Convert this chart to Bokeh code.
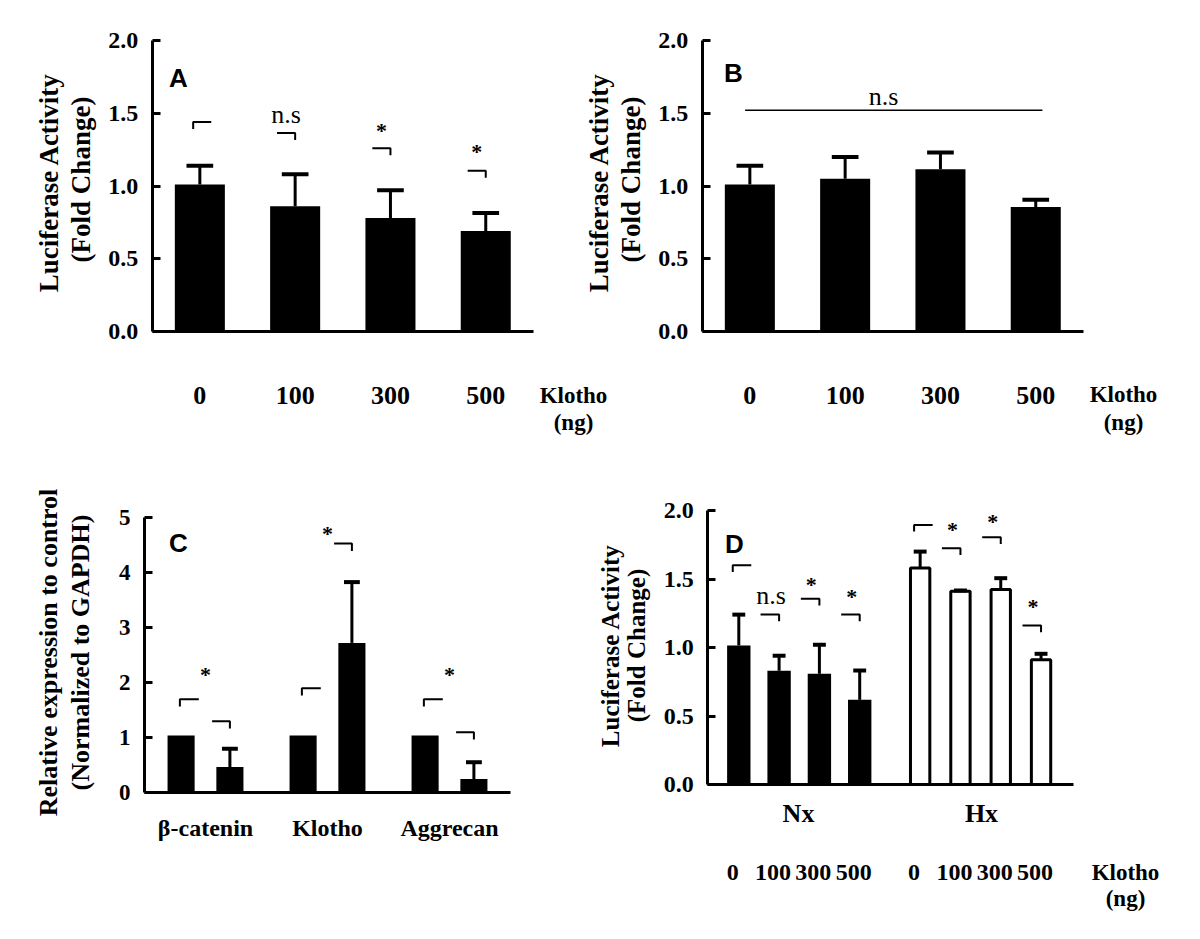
import math
from bokeh.plotting import figure
from bokeh.layouts import column
from bokeh.models import FixedTicker, Range1d, PrintfTickFormatter, LinearAxis
from bokeh.core.properties import value
from bokeh.embed import file_html
from bokeh.resources import INLINE

SERIF = "Liberation Serif"
SANS = "Liberation Sans"
BLACK = "black"

# ---------------- data ----------------
# Panel A
a_doses = ["0", "100", "300", "500"]
a_mean = [1.01, 0.86, 0.78, 0.69]
a_err = [0.13, 0.22, 0.19, 0.125]
a_sig = ["", "n.s", "*", "*"]
a_bracket = [1.44, 1.365, 1.26, 1.105]
a_mark = [0, 1.51, 1.40, 1.255]

# Panel B
b_doses = ["0", "100", "300", "500"]
b_mean = [1.01, 1.05, 1.115, 0.855]
b_err = [0.13, 0.15, 0.115, 0.05]
b_sig = "n.s"
b_sig_line = 1.52
b_sig_text = 1.635

# Panel C
c_genes = ["β-catenin", "Klotho", "Aggrecan"]
c_ctrl = [1.03, 1.03, 1.03]
c_trt = [0.46, 2.715, 0.24]
c_trt_err = [0.33, 1.105, 0.305]
c_ctrl_bracket = [1.69, 1.89, 1.69]
c_trt_bracket = [1.29, 4.52, 1.09]
c_star = [2.18, 4.75, 2.18]

# Panel D
d_groups = ["Nx", "Hx"]
d_doses = ["0", "100", "300", "500"]
d_nx_mean = [1.015, 0.83, 0.808, 0.618]
d_nx_err = [0.225, 0.11, 0.212, 0.214]
d_hx_mean = [1.58, 1.41, 1.423, 0.91]
d_hx_err = [0.12, 0.006, 0.083, 0.044]
d_nx_sig = ["", "n.s", "*", "*"]
d_hx_sig = ["", "*", "*", "*"]
d_nx_bracket = [1.60, 1.24, 1.355, 1.24]
d_hx_bracket = [1.895, 1.725, 1.805, 1.16]
d_nx_mark = [0, 1.40, 1.48, 1.39]
d_hx_mark = [0, 1.88, 1.94, 1.32]


class Frame:
    """Maps page pixels of a panel onto its data coordinates."""
    def __init__(self, ox, oy, w, h, x0, sx, y0, sy):
        self.ox, self.oy, self.w, self.h = ox, oy, w, h
        self.x0, self.sx, self.y0, self.sy = x0, sx, y0, sy

    def X(self, px):
        return (px - self.x0) / self.sx

    def Y(self, py):
        return (self.y0 - py) / self.sy

    def xr(self):
        return Range1d(self.X(self.ox), self.X(self.ox + self.w))

    def yr(self):
        return Range1d(self.Y(self.oy + self.h), self.Y(self.oy))


def style_y(y, fixed, bounds, yticks, yfmt, ysize):
    y.fixed_location = fixed
    y.bounds = bounds
    y.ticker = FixedTicker(ticks=yticks)
    y.formatter = PrintfTickFormatter(format=yfmt)
    y.major_tick_in = 8
    y.major_tick_out = 0
    y.major_tick_line_width = 3
    y.major_tick_line_color = BLACK
    y.minor_tick_line_color = None
    y.axis_line_width = 3
    y.axis_line_color = BLACK
    y.major_label_text_font = SERIF
    y.major_label_text_font_style = "bold"
    y.major_label_text_font_size = ysize
    y.major_label_text_color = BLACK
    y.major_label_standoff = 14


def style_x(x, fixed, bounds, ticks, labels, size, standoff):
    x.fixed_location = fixed
    x.bounds = bounds
    x.ticker = FixedTicker(ticks=ticks)
    x.major_label_overrides = {t: s for t, s in zip(ticks, labels)}
    x.major_tick_in = 0
    x.major_tick_out = 0
    x.major_tick_line_color = None
    x.minor_tick_line_color = None
    x.axis_line_width = 3
    x.axis_line_color = BLACK
    x.major_label_text_font = SERIF
    x.major_label_text_font_style = "bold"
    x.major_label_text_color = BLACK
    x.major_label_text_font_size = size
    x.major_label_standoff = standoff


def make_fig(fr):
    p = figure(width=fr.w, height=fr.h, x_range=fr.xr(), y_range=fr.yr(),
               output_backend="svg", toolbar_location=None, title=None,
               min_border=0)
    p.outline_line_color = None
    p.xgrid.visible = False
    p.ygrid.visible = False
    p.background_fill_color = "white"
    p.border_fill_color = "white"
    return p


def txt(p, fr, px, py, t, size, bold=True, font=SERIF, angle=0.0, **kw):
    p.text(x=[fr.X(px)], y=[fr.Y(py)], text=[t], text_font=value(font),
           text_font_style="bold" if bold else "normal", text_font_size=size,
           text_align="center", text_baseline="middle", angle=angle,
           text_color=BLACK, **kw)


def err_bars(p, xs, mean, err, cap_w, lw=3, **kw):
    tops = [m + e for m, e in zip(mean, err)]
    p.segment(x0=xs, y0=mean, x1=xs, y1=tops, line_color=BLACK, line_width=lw, **kw)
    p.segment(x0=[x - cap_w / 2 for x in xs], y0=tops,
              x1=[x + cap_w / 2 for x in xs], y1=tops,
              line_color=BLACK, line_width=4, **kw)


def bracket_left(x, y, l, r, drop):
    return [x + l, x + l, x + r], [y - drop, y, y]


def bracket_right(x, y, l, r, drop):
    return [x + l, x + r, x + r], [y, y, y - drop]


def add_marks(p, xs, ys, labels, ppu, **kw):
    sx, sy, st = [], [], []
    nx, ny, nt = [], [], []
    for x, y, t in zip(xs, ys, labels):
        if t == "*":
            sx.append(x); sy.append(y - 2.5 / ppu); st.append(t)
        elif t:
            nx.append(x); ny.append(y - 3 / ppu); nt.append(t)
    if st:
        p.text(x=sx, y=sy, text=st, text_font=value(SERIF), text_font_style="bold",
               text_font_size="22px", text_align="center", text_baseline="alphabetic",
               text_color=BLACK, **kw)
    if nt:
        p.text(x=nx, y=ny, text=nt, text_font=value(SERIF), text_font_style="normal",
               text_font_size="26px", text_align="center", text_baseline="alphabetic",
               text_color=BLACK, **kw)


YT = [0, 0.5, 1.0, 1.5, 2.0]
ROT = math.pi / 2

# ---------------- Panels A and B (one canvas, same scales) ----------------
fab = Frame(0, 0, 1200, 450, 199.35, 95.3, 331, 145.5)
pab = make_fig(fab)
b_off = fab.X(749.35)

# A
xa = list(range(len(a_doses)))
style_y(pab.yaxis[0], -0.5, (0, 2), YT, "%.1f", "24px")
style_x(pab.xaxis[0], 0, (-0.5, 3.5), xa, a_doses, "26px", 55)
pab.vbar(x=xa, top=a_mean, bottom=0, width=0.525, fill_color=BLACK, line_color=None)
err_bars(pab, xa, a_mean, a_err, 0.28)
bx, by = [], []
for i, (x, y) in enumerate(zip(xa, a_bracket)):
    if i == 0:
        u, v = bracket_left(x, y, -0.07, 0.12, 7 / fab.sy)
    else:
        u, v = bracket_right(x, y, -0.19, 0.0, 7 / fab.sy)
    bx.append(u); by.append(v)
pab.multi_line(bx, by, line_color=BLACK, line_width=2)
add_marks(pab, [x - 0.095 for x in xa], a_mark, a_sig, fab.sy)
txt(pab, fab, 178, 77, "A", "26px", font=SANS)
txt(pab, fab, 48, 182, "Luciferase Activity", "27px", angle=ROT)
txt(pab, fab, 80, 179, "(Fold Change)", "27px", angle=ROT)
txt(pab, fab, 573, 395, "Klotho", "23px")
txt(pab, fab, 573, 422, "(ng)", "23px")

# B
xb = [b_off + i for i in range(len(b_doses))]
yb_axis = LinearAxis()
style_y(yb_axis, b_off - 0.5, (0, 2), YT, "%.1f", "24px")
pab.add_layout(yb_axis, "left")
xb_axis = LinearAxis()
style_x(xb_axis, 0, (b_off - 0.5, b_off + 3.5), xb, b_doses, "26px", 55)
pab.add_layout(xb_axis, "below")
pab.vbar(x=xb, top=b_mean, bottom=0, width=0.525, fill_color=BLACK, line_color=None)
err_bars(pab, xb, b_mean, b_err, 0.28)
pab.segment(x0=[xb[0] - 0.05], y0=[b_sig_line], x1=[xb[-1] + 0.07], y1=[b_sig_line],
            line_color=BLACK, line_width=1.5)
pab.text(x=[fab.X(883)], y=[b_sig_text - 3 / fab.sy], text=[b_sig], text_font=value(SERIF),
         text_font_size="26px", text_align="center", text_baseline="alphabetic",
         text_color=BLACK)
txt(pab, fab, 733, 72, "B", "26px", font=SANS)
txt(pab, fab, 598, 182, "Luciferase Activity", "27px", angle=ROT)
txt(pab, fab, 630, 179, "(Fold Change)", "27px", angle=ROT)
txt(pab, fab, 1123, 394, "Klotho", "23px")
txt(pab, fab, 1123, 422, "(ng)", "23px")

# ---------------- Panels C and D (one canvas, two scales) ----------------
fc = Frame(0, 450, 1200, 488, 205.0, 122.0, 791.7, 55.0)
fd = Frame(0, 450, 1200, 488, 738.3, 40.3, 784.0, 137.0)
pcd = make_fig(fc)
pcd.extra_x_ranges = {"d": fd.xr()}
pcd.extra_y_ranges = {"d": fd.yr()}
D = dict(x_range_name="d", y_range_name="d")

# C
xg = list(range(len(c_genes)))
style_y(pcd.yaxis[0], -0.5, (0, 5), [0, 1, 2, 3, 4, 5], "%d", "23px")
style_x(pcd.xaxis[0], 0, (-0.5, 2.5), xg, c_genes, "24px", 23)
xc_ctrl = [g - 0.2 for g in xg]
xc_trt = [g + 0.2 for g in xg]
pcd.vbar(x=xc_ctrl, top=c_ctrl, bottom=0, width=0.222, fill_color=BLACK, line_color=None)
pcd.vbar(x=xc_trt, top=c_trt, bottom=0, width=0.222, fill_color=BLACK, line_color=None)
err_bars(pcd, xc_trt, c_trt, c_trt_err, 0.13)
bx, by = [], []
for x, y in zip(xc_ctrl, c_ctrl_bracket):
    u, v = bracket_left(x, y, -0.01, 0.145, 7.3 / fc.sy)
    bx.append(u); by.append(v)
for x, y in zip(xc_trt, c_trt_bracket):
    u, v = bracket_right(x, y, -0.146, 0.0, 7.3 / fc.sy)
    bx.append(u); by.append(v)
pcd.multi_line(bx, by, line_color=BLACK, line_width=2)
add_marks(pcd, xg, c_star, ["*"] * len(xg), fc.sy)
txt(pcd, fc, 178, 542, "C", "26px", font=SANS)
txt(pcd, fc, 48, 652, "Relative expression to control", "26px", angle=ROT)
txt(pcd, fc, 80, 652, "(Normalized to GAPDH)", "26px", angle=ROT)

# D
x_nx = [0, 1, 2, 3]
x_hx = [4.5, 5.5, 6.5, 7.5]
tick_x = [x - 0.15 for x in x_nx + x_hx]
yd_axis = LinearAxis(**D)
style_y(yd_axis, fd.X(707.3), (0, 2), YT, "%.1f", "24px")
pcd.add_layout(yd_axis, "left")
xd_axis = LinearAxis(**D)
style_x(xd_axis, 0, (fd.X(707.3), fd.X(1073.3)), tick_x, d_doses + d_doses, "24px", 80)
pcd.add_layout(xd_axis, "below")
pcd.vbar(x=x_nx, top=d_nx_mean, bottom=0, width=0.58, fill_color=BLACK, line_color=None, **D)
pcd.vbar(x=x_hx, top=d_hx_mean, bottom=0, width=0.48, fill_color="white",
         line_color=BLACK, line_width=3, **D)
err_bars(pcd, x_nx, d_nx_mean, d_nx_err, 0.32, **D)
err_bars(pcd, x_hx, d_hx_mean, d_hx_err, 0.32, **D)
bx, by = [], []
for xs_, ys_ in ((x_nx, d_nx_bracket), (x_hx, d_hx_bracket)):
    for i, (x, y) in enumerate(zip(xs_, ys_)):
        if i == 0:
            u, v = bracket_left(x, y, -0.15, 0.31, 6.7 / fd.sy)
        else:
            u, v = bracket_right(x, y, -0.46, 0.0, 6.7 / fd.sy)
        bx.append(u); by.append(v)
pcd.multi_line(bx, by, line_color=BLACK, line_width=2, **D)
add_marks(pcd, [x - 0.2 for x in x_nx], d_nx_mark, d_nx_sig, fd.sy, **D)
add_marks(pcd, [x - 0.2 for x in x_hx], d_hx_mark, d_hx_sig, fd.sy, **D)
txt(pcd, fd, 734, 543, "D", "26px", font=SANS, **D)
txt(pcd, fd, 610, 645, "Luciferase Activity", "25px", angle=ROT, **D)
txt(pcd, fd, 636, 645, "(Fold Change)", "25px", angle=ROT, **D)
txt(pcd, fd, 798, 813, d_groups[0], "26px", **D)
txt(pcd, fd, 981, 813, d_groups[1], "26px", **D)
txt(pcd, fd, 1125, 872, "Klotho", "23px", **D)
txt(pcd, fd, 1125, 898, "(ng)", "23px", **D)

layout = column(pab, pcd)
open("out.html", "w").write(file_html(layout, INLINE))
